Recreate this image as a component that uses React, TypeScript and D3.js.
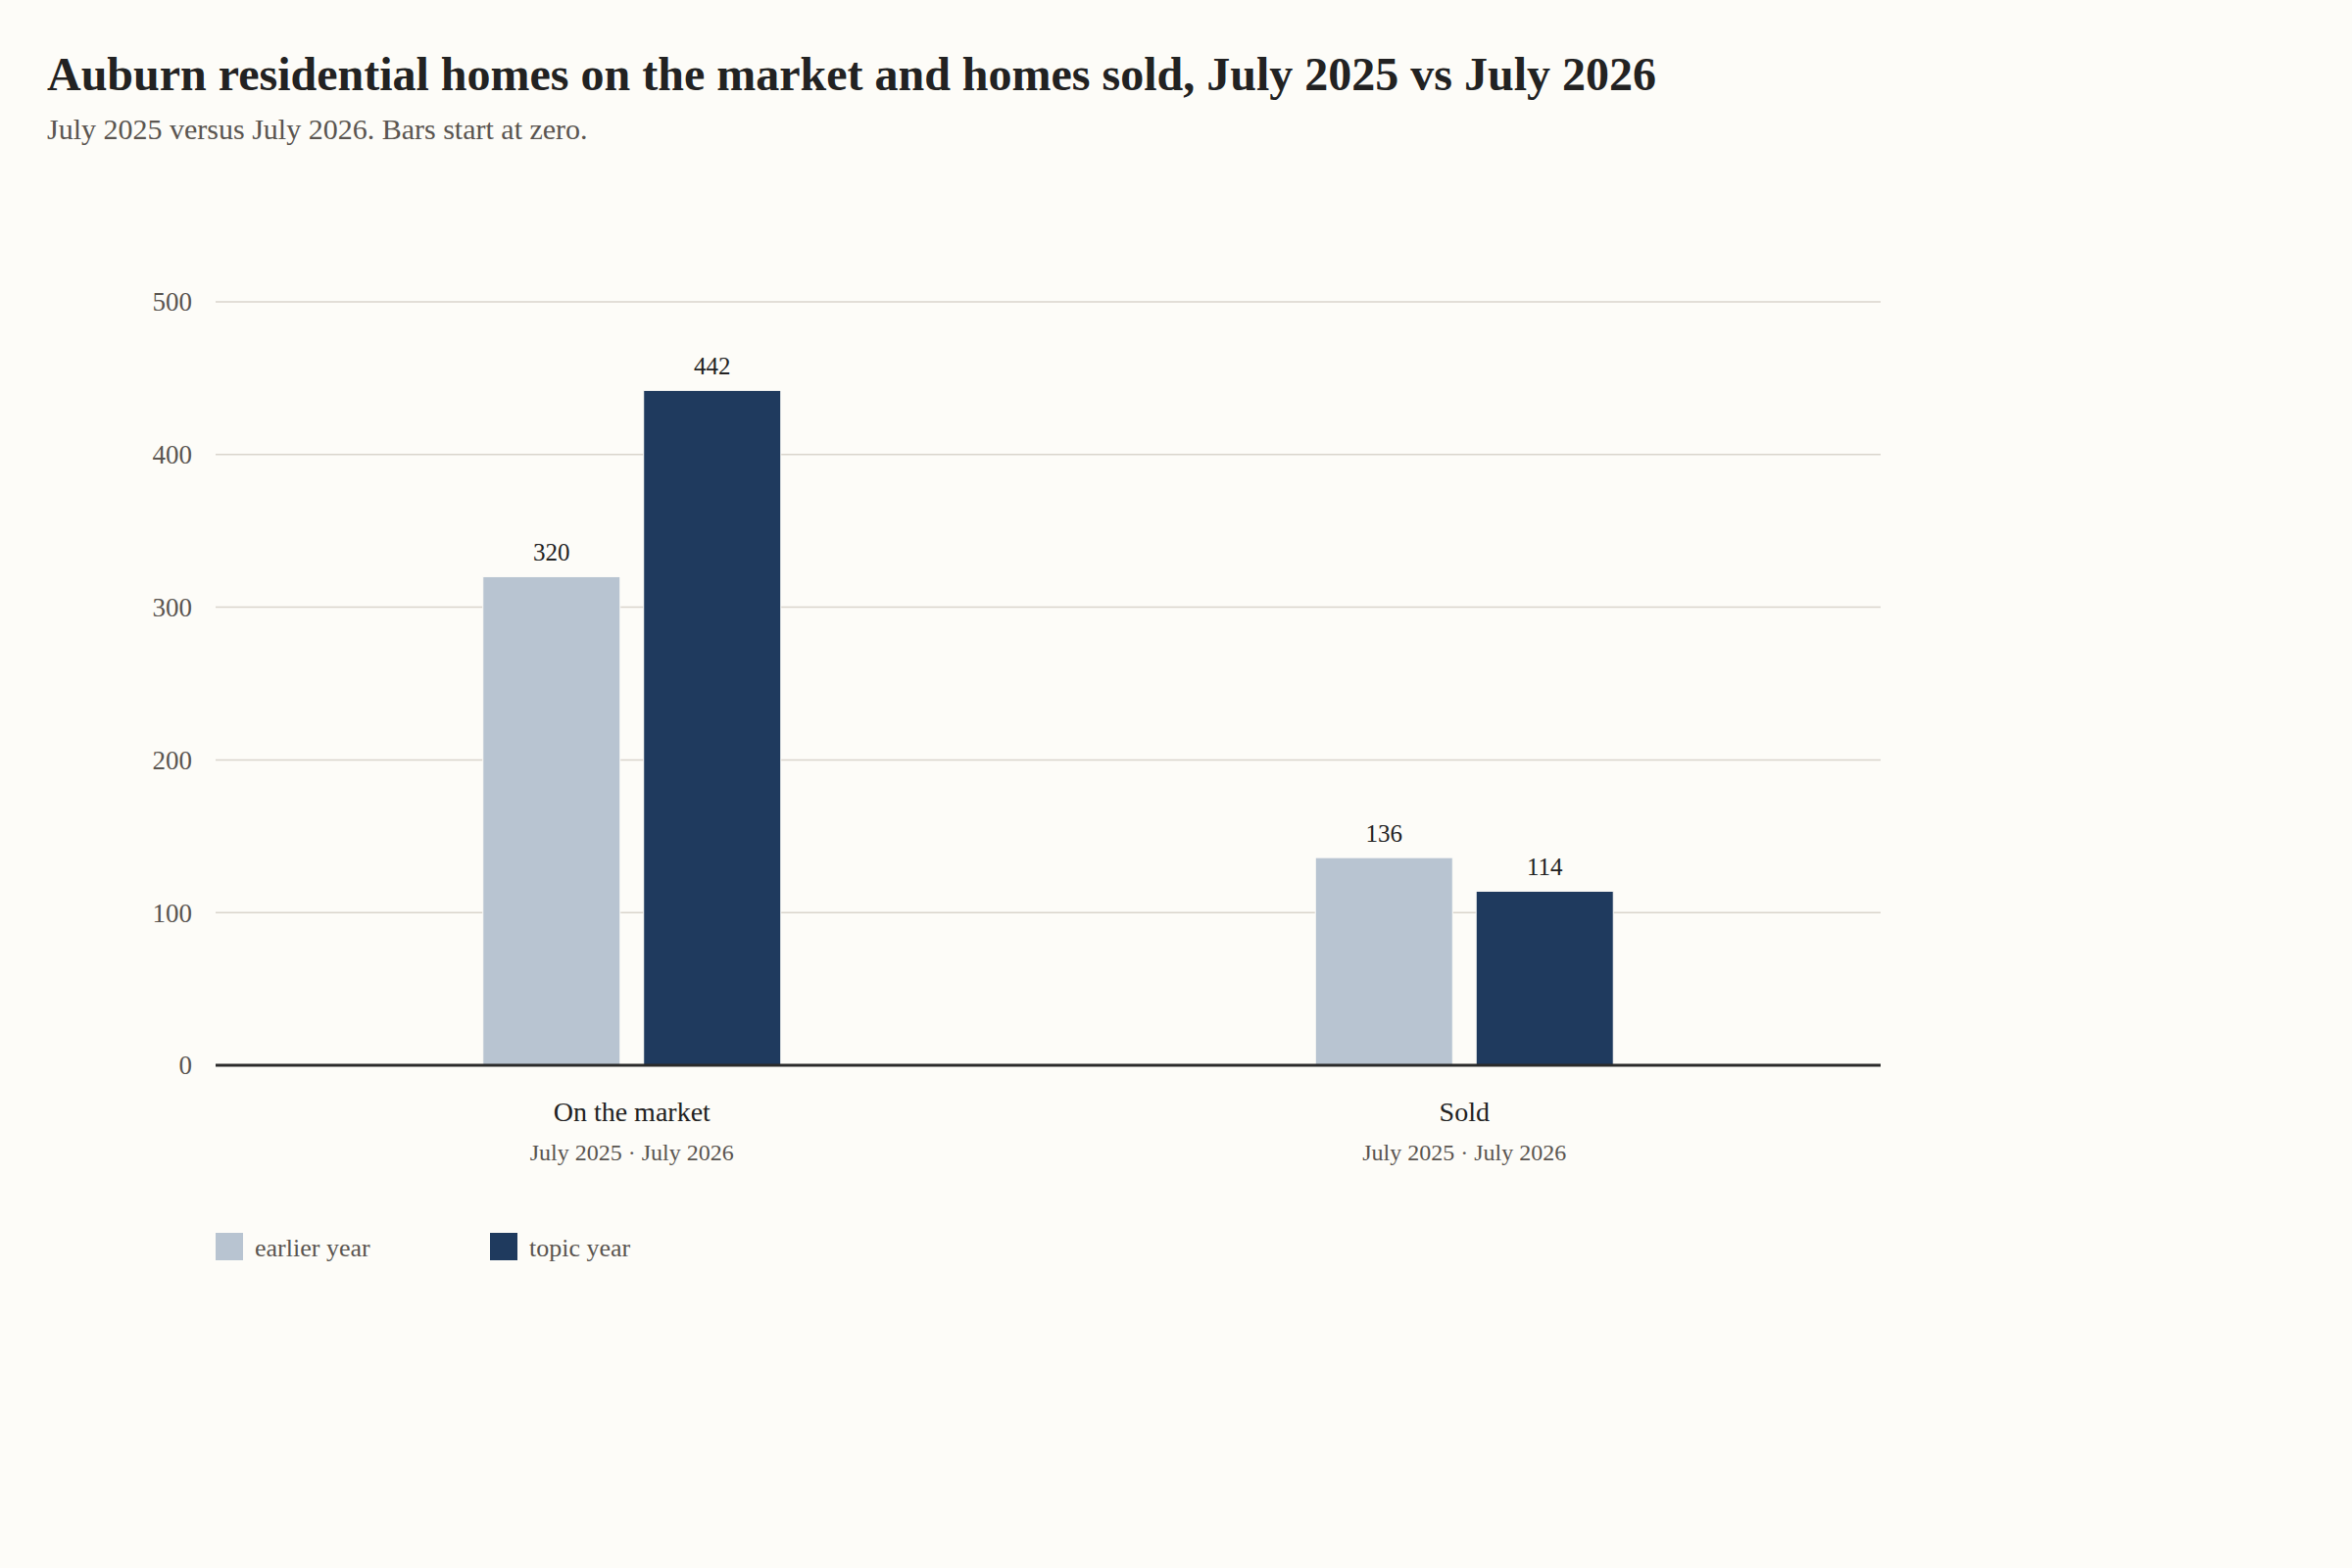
import { useEffect, useRef } from 'react';
import * as d3 from 'd3';

const categories = ['On the market', 'Sold'];
const subLabels = ['July 2025 · July 2026', 'July 2025 · July 2026'];
const seriesKeys = ['earlier', 'topic'];
const seriesNames = ['earlier year', 'topic year'];
const earlierValues = [320, 136];
const topicValues = [442, 114];
const yTicks = [0, 100, 200, 300, 400, 500];

const TITLE = 'Auburn residential homes on the market and homes sold, July 2025 vs July 2026';
const SUBTITLE = 'July 2025 versus July 2026. Bars start at zero.';

export default function App() {
  const svgRef = useRef<SVGSVGElement>(null);

  useEffect(() => {
    if (!svgRef.current) return;

    const width = 2400;
    const height = 1600;
    const margin = { top: 308, right: 481, bottom: 513, left: 220 };
    const font = '"Liberation Serif", "Times New Roman", serif';
    const bg = '#fdfcf8';
    const colors: Record<string, string> = { earlier: '#b8c4d1', topic: '#1f3a5e' };

    const svg = d3.select(svgRef.current);
    svg.selectAll('*').remove();

    svg.append('rect').attr('width', width).attr('height', height).attr('fill', bg);

    // title block
    svg.append('text')
      .attr('x', 48).attr('y', 92)
      .style('font-family', font).style('font-size', '48px').style('font-weight', 'bold')
      .style('fill', '#222222')
      .text(TITLE);

    svg.append('text')
      .attr('x', 48).attr('y', 142)
      .style('font-family', font).style('font-size', '30px')
      .style('fill', '#5a5550')
      .text(SUBTITLE);

    const x0 = d3.scaleBand()
      .domain(categories)
      .range([margin.left, width - margin.right])
      .padding(0);

    const x1 = d3.scaleBand()
      .domain(seriesKeys)
      .range([-152, 152])
      .paddingInner(0.146);

    const y = d3.scaleLinear()
      .domain([0, 500])
      .range([height - margin.bottom, margin.top]);

    // grid
    const grid = svg.append('g');
    grid.selectAll('line')
      .data(yTicks.filter(t => t > 0))
      .join('line')
      .attr('x1', margin.left).attr('x2', width - margin.right)
      .attr('y1', d => y(d)).attr('y2', d => y(d))
      .style('stroke', '#d9d4cc').style('stroke-width', 1.5);

    grid.selectAll('text')
      .data(yTicks)
      .join('text')
      .attr('x', margin.left - 24)
      .attr('y', d => y(d))
      .attr('dy', '0.35em')
      .attr('text-anchor', 'end')
      .style('font-family', font).style('font-size', '27px')
      .style('fill', '#5a5550')
      .text(d => d);

    const rows = categories.map((c, i) => ({
      category: c,
      values: [
        { key: 'earlier', value: earlierValues[i] },
        { key: 'topic', value: topicValues[i] },
      ],
    }));

    const groups = svg.append('g')
      .selectAll('g')
      .data(rows)
      .join('g')
      .attr('transform', d => `translate(${x0(d.category)! + x0.bandwidth() / 2},0)`);

    groups.selectAll('rect')
      .data(d => d.values)
      .join('rect')
      .attr('x', d => x1(d.key)!)
      .attr('width', x1.bandwidth())
      .attr('y', d => y(d.value))
      .attr('height', d => y(0) - y(d.value))
      .attr('fill', d => colors[d.key])
      .style('stroke', bg).style('stroke-width', 1);

    groups.selectAll('text.value')
      .data(d => d.values)
      .join('text')
      .attr('class', 'value')
      .attr('x', d => x1(d.key)! + x1.bandwidth() / 2)
      .attr('y', d => y(d.value) - 16)
      .attr('text-anchor', 'middle')
      .style('font-family', font).style('font-size', '25px')
      .style('fill', '#222222')
      .text(d => d.value);

    groups.append('text')
      .attr('y', 1144)
      .attr('text-anchor', 'middle')
      .style('font-family', font).style('font-size', '28px')
      .style('fill', '#222222')
      .text(d => d.category);

    groups.append('text')
      .attr('y', 1184)
      .attr('text-anchor', 'middle')
      .style('font-family', font).style('font-size', '24px')
      .style('fill', '#5a5550')
      .text((_, i) => subLabels[i]);

    // zero baseline
    svg.append('line')
      .attr('x1', margin.left).attr('x2', width - margin.right)
      .attr('y1', y(0)).attr('y2', y(0))
      .style('stroke', '#2b2b2b').style('stroke-width', 3);

    // legend
    const legend = svg.append('g')
      .selectAll('g')
      .data(seriesKeys)
      .join('g')
      .attr('transform', (_, i) => `translate(${220 + i * 280},1258)`);

    legend.append('rect')
      .attr('width', 28).attr('height', 28)
      .attr('fill', d => colors[d]);

    legend.append('text')
      .attr('x', 40).attr('y', 24)
      .style('font-family', font).style('font-size', '26px')
      .style('fill', '#5a5550')
      .text((_, i) => seriesNames[i]);
  }, []);

  return (
    <svg
      ref={svgRef}
      width={2400}
      height={1600}
      viewBox="0 0 2400 1600"
      style={{ position: 'absolute', left: 0, top: 0, display: 'block' }}
    />
  );
}
